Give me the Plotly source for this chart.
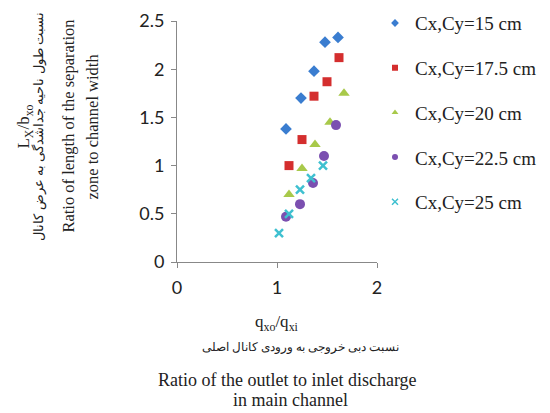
import plotly.graph_objects as go

series_names = ["Cx,Cy=15 cm", "Cx,Cy=17.5 cm", "Cx,Cy=20 cm", "Cx,Cy=22.5 cm", "Cx,Cy=25 cm"]

x_15 = [1.09, 1.24, 1.37, 1.48, 1.61]
y_15 = [1.38, 1.70, 1.98, 2.28, 2.33]

x_175 = [1.12, 1.25, 1.37, 1.50, 1.62]
y_175 = [1.00, 1.27, 1.72, 1.87, 2.12]

x_20 = [1.12, 1.25, 1.38, 1.53, 1.67]
y_20 = [0.70, 0.97, 1.22, 1.45, 1.75]

x_225 = [1.09, 1.23, 1.36, 1.47, 1.59]
y_225 = [0.47, 0.60, 0.82, 1.10, 1.42]

x_25 = [1.02, 1.12, 1.23, 1.34, 1.46]
y_25 = [0.30, 0.50, 0.75, 0.87, 1.00]

xs = [x_15, x_175, x_20, x_225, x_25]
ys = [y_15, y_175, y_20, y_225, y_25]

colors = ["#3a7dd0", "#d42e2e", "#a8c94a", "#7b4fb0", "#3fc0d0"]
symbols = ["diamond", "square", "triangle-up", "circle", "x-thin-open"]
sizes = [9, 9, 10, 10, 8]

serif = "Liberation Serif"
sans = "Lato"

fig = go.Figure()

for i, name in enumerate(series_names):
    marker = dict(symbol=symbols[i], size=sizes[i], color=colors[i])
    if symbols[i].endswith("open"):
        marker["line"] = dict(width=2.5, color=colors[i])
    fig.add_trace(
        go.Scatter(
            x=xs[i], y=ys[i], mode="markers", name=name,
            legendgroup=name, showlegend=False, marker=marker,
        )
    )
    # small legend-only copy so the legend symbols stay little
    leg_marker = dict(marker, size=6)
    if "line" in leg_marker:
        leg_marker["line"] = dict(width=1.5, color=colors[i])
    fig.add_trace(
        go.Scatter(
            x=[None], y=[None], mode="markers", name=name,
            legendgroup=name, marker=leg_marker,
        )
    )

fig.update_layout(
    width=550,
    height=413,
    plot_bgcolor="white",
    paper_bgcolor="white",
    margin=dict(l=177, r=173, t=21, b=151, autoexpand=False),
    legend=dict(
        x=0.99, y=1.07, xanchor="left", yanchor="top",
        font=dict(family=serif, size=19, color="#222"),
        tracegroupgap=17,
        maxheight=1,
        bgcolor="rgba(0,0,0,0)",
    ),
)

fig.update_xaxes(
    range=[0, 2], tickvals=[0, 1, 2], showgrid=False, zeroline=False,
    showline=True, linecolor="#888", linewidth=1,
    ticks="outside", ticklen=5, tickcolor="#888", ticklabelstandoff=4,
    tickfont=dict(family=sans, size=18, color="#222"),
)
fig.update_yaxes(
    range=[0, 2.5], tickvals=[0, 0.5, 1, 1.5, 2, 2.5], showgrid=False, zeroline=False,
    showline=True, linecolor="#888", linewidth=1,
    ticks="outside", ticklen=5, tickcolor="#888", ticklabelstandoff=3,
    tickfont=dict(family=sans, size=18, color="#222"),
)

# axis titles as separate lines of text
y_lines = [
    ("L<sub>X</sub>/b<sub>xo</sub>", 25, 17),
    ("نسبت طول ناحیه جداشدگی به عرض کانال", 39, 13),
    ("Ratio of length of the separation", 69, 16.5),
    ("zone to channel width", 93, 16.5),
]
for text, px, size in y_lines:
    fig.add_annotation(
        text=text, xref="paper", yref="paper",
        x=(px - 177) / 200, y=(263 - 127) / 242, textangle=-90, showarrow=False,
        xanchor="center", yanchor="middle",
        font=dict(family=serif, size=size, color="#222"),
    )

x_lines = [
    ("q<sub>xo</sub>/q<sub>xi</sub>", 277, 324, 17),
    ("نسبت دبی خروجی به ورودی کانال اصلی", 300, 348, 12),
    ("Ratio of the outlet to inlet discharge", 287, 381, 18),
    ("in main channel", 290, 402, 18),
]
for text, px, py, size in x_lines:
    fig.add_annotation(
        text=text, xref="paper", yref="paper",
        x=(px - 177) / 200, y=(263 - py) / 242, showarrow=False,
        xanchor="center", yanchor="middle",
        font=dict(family=serif, size=size, color="#222"),
    )

page_fix = (
    "document.body.style.margin = '0';"
    "document.body.style.overflow = 'hidden';"
    "document.documentElement.style.overflow = 'hidden';"
)
fig.write_html("out.html", config={"displayModeBar": False}, post_script=page_fix)
